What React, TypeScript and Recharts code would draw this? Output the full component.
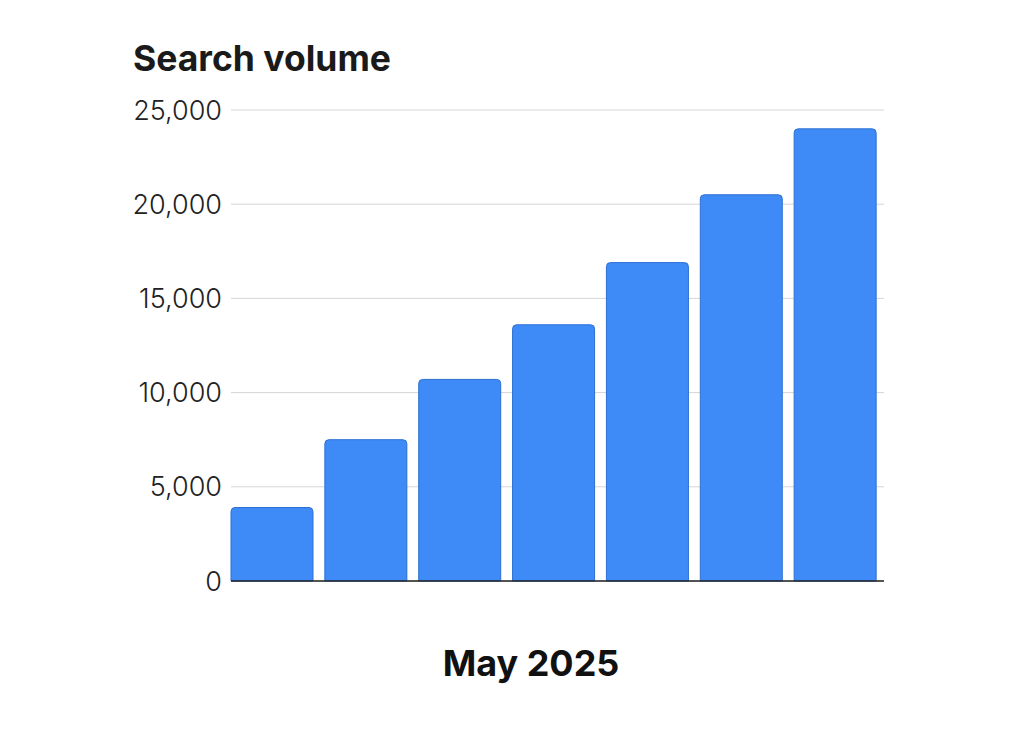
import React from 'react';
import { BarChart, Bar, XAxis, YAxis, CartesianGrid } from 'recharts';

// one bar per week-ish bucket
const buckets = ['1', '2', '3', '4', '5', '6', '7'];
const searchVolume = [3900, 7500, 10700, 13600, 16900, 20500, 24000];
const yTicks = [0, 5000, 10000, 15000, 20000, 25000];

const data = buckets.map((b, i) => ({ bucket: b, volume: searchVolume[i] }));

const fontStack = 'Inter, "Noto Sans", "Liberation Sans", sans-serif';

export default function App() {
  return (
    <div style={{ position: 'absolute', left: 0, top: 0, width: 1024, height: 741, background: '#fff', fontFamily: fontStack }}>
      <div style={{ position: 'absolute', left: 133, top: 37, fontSize: 35.5, fontWeight: 700, color: '#1a1a1a' }}>
        Search volume
      </div>

      <BarChart
        width={1024}
        height={741}
        data={data}
        margin={{ top: 110, right: 140, bottom: 159, left: 0 }}
        barCategoryGap={6}
      >
        <CartesianGrid vertical={false} stroke="#d6d6d6" strokeWidth={1} />
        <XAxis
          dataKey="bucket"
          tick={false}
          tickLine={false}
          axisLine={{ stroke: '#222', strokeWidth: 1.5 }}
          padding={{ left: -6, right: 2 }}
          height={1}
        />
        <YAxis
          width={231}
          domain={[0, 25000]}
          ticks={yTicks}
          axisLine={false}
          tickLine={false}
          tickSize={0}
          tickMargin={9}
          tickFormatter={(v: number) => v.toLocaleString('en-US')}
          tick={{ fontSize: 27, fill: '#222', fontFamily: fontStack, fontWeight: 300 }}
        />
        <Bar
          dataKey="volume"
          fill="#3e8bf7"
          stroke="#2c6fd4"
          strokeWidth={1}
          radius={[4, 4, 0, 0]}
          isAnimationActive={false}
        />
      </BarChart>

      <div style={{ position: 'absolute', left: 0, width: 1062, top: 641, textAlign: 'center', fontSize: 36, fontWeight: 700, color: '#111' }}>
        May 2025
      </div>
    </div>
  );
}
